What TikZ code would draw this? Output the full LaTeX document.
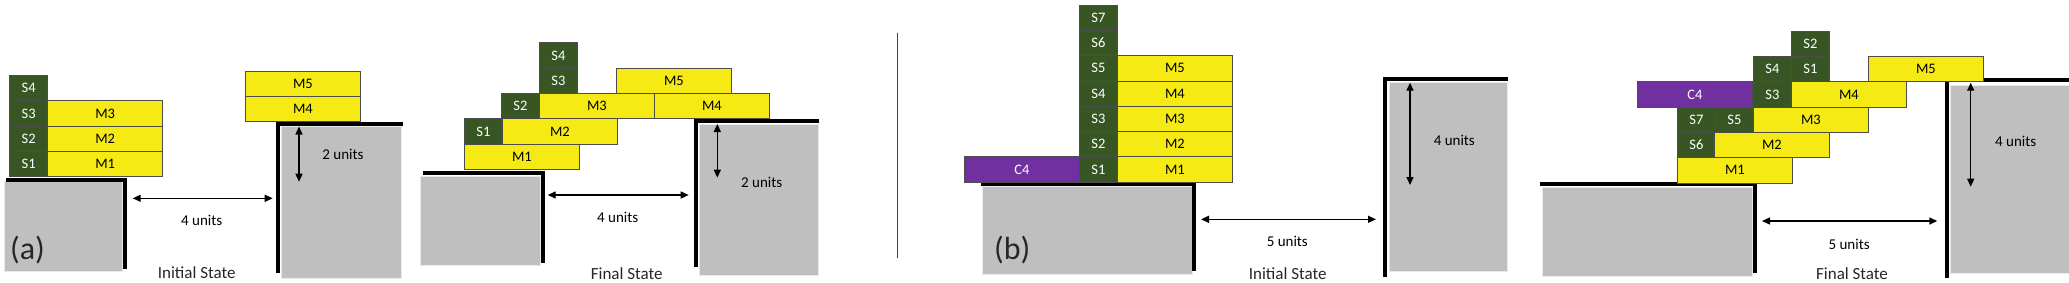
\documentclass[tikz,border=0pt]{standalone}
\usepackage{fontspec}
\setmainfont{Carlito}
\usepackage{tikz}
\usetikzlibrary{arrows.meta,positioning}
\definecolor{Moss}{HTML}{375623}
\definecolor{Lemon}{HTML}{F5EA14}
\definecolor{Plum}{HTML}{7030A0}
\definecolor{Stone}{HTML}{BFBFBF}
\definecolor{Rule}{HTML}{404040}

\begin{document}
\begin{tikzpicture}[x=1pt,y=-1pt,
    blk/.style={draw=black!70,line width=0.8pt,minimum height=25.3pt,inner sep=0pt,
      anchor=south west,font=\fontsize{14.5}{16}\selectfont},
    sblk/.style={blk,fill=Moss,text=white,minimum width=38pt},
    mblk/.style={blk,fill=Lemon,minimum width=115pt},
    cblk/.style={blk,fill=Plum,text=white,minimum width=115pt},
    ledge/.style={line width=4pt,black},
    base/.style={fill=Stone,draw=Stone!35,line width=1pt},
    dim/.style={{Triangle[length=8pt,width=7pt]}-{Triangle[length=8pt,width=7pt]},line width=1.4pt},
    lbl/.style={inner sep=0pt,font=\fontsize{15}{17}\selectfont},
    state/.style={inner sep=0pt,text=black!85,font=\fontsize{17}{20}\selectfont},
    panel/.style={inner sep=0pt,text=black!85,font=\fontsize{32}{36}\selectfont}
  ]
    \useasboundingbox (0,0) rectangle (2069,282);
    % (a) initial
    \filldraw[base] (4,181.7) rectangle (122.7,271.7);
    \draw[ledge] (6,179.7) -- (124.7,179.7) -- (124.7,269);
    \filldraw[base] (281.7,126.5) rectangle (401,278.3);
    \draw[ledge] (402.7,124) -- (277.8,124) -- (277.8,273.3);
    \foreach \i/\y in {1/177,2/151.7,3/126.4,4/101.1}{
      \node[sblk] (aiS\i) at (9.3,\y) {S\i};
    }
    \foreach \i/\x/\y in {1/47.3/177,2/47.3/151.7,3/47.3/126.4,4/245/122,5/245/96.7}{
      \node[mblk] (aiM\i) at (\x,\y) {M\i};
    }
    \coordinate (aiTop) at (299,126.5);
    \coordinate (aiBot) at (299,181.7);
    \draw[dim] (aiTop) -- (aiBot);
    \node[lbl] (aiRise) at (343,154) {2 units};
    \coordinate (aiL) at (132.7,198.3);
    \coordinate (aiR) at (272.7,198.3);
    \draw[dim] (aiL) -- (aiR);
    \node[lbl] (aiGap) at (201.7,220) {4 units};
    \node[state] (aiState) at (196.7,273) {Initial State};
    \node[panel] (pa) at (27.5,250) {(a)};
    % (a) final
    \filldraw[base] (420.7,176.7) rectangle (540,265);
    \draw[ledge] (423.3,172.7) -- (542.7,172.7) -- (542.7,263.3);
    \filldraw[base] (699.3,124) rectangle (818.3,275);
    \draw[ledge] (819.3,121) -- (696,121) -- (696,266.7);
    \foreach \i/\x/\y in {1/464/144.4,2/501/119.1,3/539/93.8,4/539/68.5}{
      \node[sblk] (afS\i) at (\x,\y) {S\i};
    }
    \foreach \i/\x/\y in {1/464/169.7,2/502/144.4,3/539/119.1,4/654/119.1,5/616/93.8}{
      \node[mblk] (afM\i) at (\x,\y) {M\i};
    }
    \coordinate (afTop) at (717.3,124);
    \coordinate (afBot) at (717.3,177.7);
    \draw[dim] (afTop) -- (afBot);
    \node[lbl] (afRise) at (761.7,182.7) {2 units};
    \coordinate (afL) at (547.7,195);
    \coordinate (afR) at (688.7,195);
    \draw[dim] (afL) -- (afR);
    \node[lbl] (afGap) at (617.7,217.3) {4 units};
    \node[state] (afState) at (626.7,273.3) {Final State};
    \draw[Rule,line width=1.5pt] (897.3,32.7) -- (897.3,258.3);
    % (b) initial
    \filldraw[base] (982.7,186.5) rectangle (1192,274);
    \draw[ledge] (980.7,184) -- (1194,184) -- (1194,270.7);
    \filldraw[base] (1389.3,82.7) rectangle (1507.7,271.7);
    \draw[ledge] (1508.3,78.7) -- (1385,78.7) -- (1385,277);
    \foreach \i/\y in {1/182.5,2/157.2,3/131.9,4/106.6,5/81.3,6/56,7/30.7}{
      \node[sblk] (biS\i) at (1079,\y) {S\i};
    }
    \foreach \i/\y in {1/182.5,2/157.2,3/131.9,4/106.6,5/81.3}{
      \node[mblk] (biM\i) at (1117,\y) {M\i};
    }
    \node[cblk] (biC4) at (964,182.5) {C4};
    \coordinate (biTop) at (1410,82.7);
    \coordinate (biBot) at (1410,185);
    \draw[dim] (biTop) -- (biBot);
    \node[lbl] (biRise) at (1454.3,140.7) {4 units};
    \coordinate (biL) at (1201,219.3);
    \coordinate (biR) at (1376,219.3);
    \draw[dim] (biL) -- (biR);
    \node[lbl] (biGap) at (1287.3,241.7) {5 units};
    \node[state] (biState) at (1287.7,273.3) {Initial State};
    \node[panel] (pb) at (1012.3,250) {(b)};
    % (b) final
    \filldraw[base] (1542.8,187.3) rectangle (1752.5,276);
    \draw[ledge] (1539.9,184) -- (1755,184) -- (1755,272.7);
    \filldraw[base] (1950,85) rectangle (2069,273.3);
    \draw[ledge] (2069,80) -- (1946.7,80) -- (1946.7,278.3);
    \foreach \i/\x/\y in {1/1791/82.1,2/1791/56.8,3/1753/107.4,4/1753/82.1,5/1715/132.7,6/1677/158,7/1677/132.7}{
      \node[sblk] (bfS\i) at (\x,\y) {S\i};
    }
    \foreach \i/\x/\y in {1/1677/183.3,2/1714/158,3/1753/132.7,4/1791/107.4,5/1868/82.1}{
      \node[mblk] (bfM\i) at (\x,\y) {M\i};
    }
    \node[cblk] (bfC4) at (1637,107.4) {C4};
    \coordinate (bfTop) at (1970.7,82.7);
    \coordinate (bfBot) at (1970.7,186.7);
    \draw[dim] (bfTop) -- (bfBot);
    \node[lbl] (bfRise) at (2015.7,141.7) {4 units};
    \coordinate (bfL) at (1762,221);
    \coordinate (bfR) at (1937.3,221);
    \draw[dim] (bfL) -- (bfR);
    \node[lbl] (bfGap) at (1849.1,244) {5 units};
    \node[state] (bfState) at (1852,273.3) {Final State};
\end{tikzpicture}
\end{document}
